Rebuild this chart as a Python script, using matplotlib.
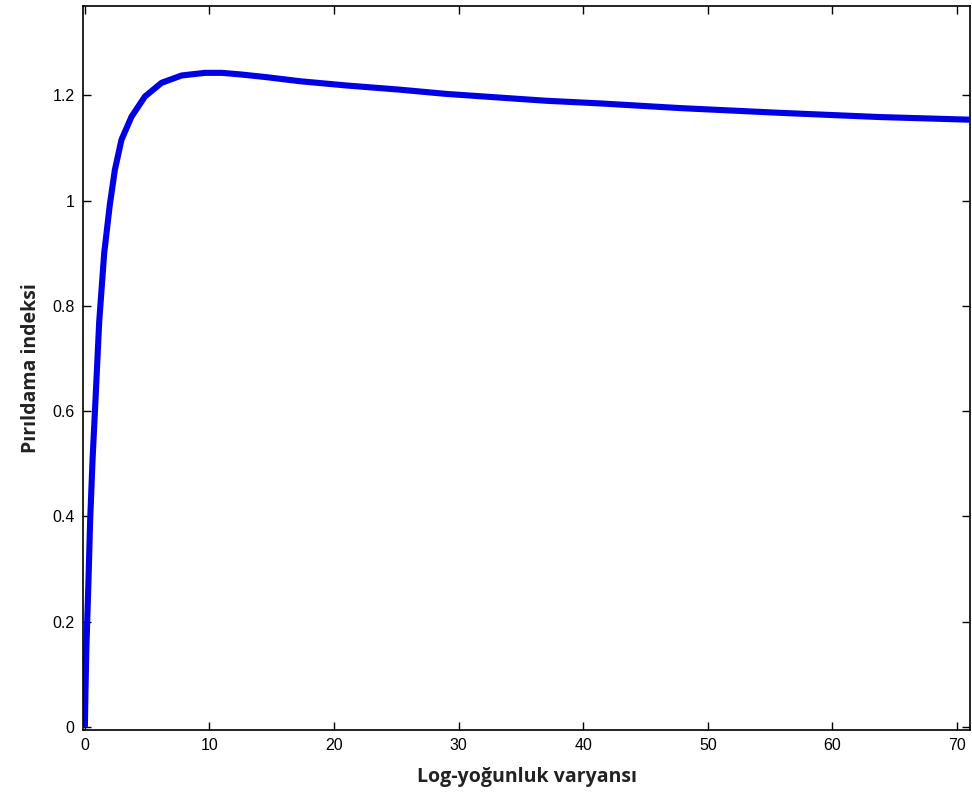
import matplotlib
matplotlib.use("Agg")
import matplotlib.pyplot as plt
from matplotlib.ticker import FuncFormatter

# log-intensity variance vs scintillation index
rytov = [0.0, 0.05, 0.12, 0.28, 0.42, 0.62, 0.86, 1.15, 1.55, 2.0, 2.41,
         2.94, 3.75, 4.82, 6.15, 7.76, 9.63, 11.0, 12.5, 14.5, 17.3, 21.0,
         25.3, 29.0, 33.3, 37.0, 41.3, 47.8, 55.8, 63.8, 71.0]
scint = [0.0, 0.07, 0.15, 0.27, 0.39, 0.51, 0.625, 0.77, 0.9, 0.992, 1.059,
         1.116, 1.160, 1.198, 1.224, 1.238, 1.243, 1.243, 1.240, 1.235,
         1.227, 1.219, 1.211, 1.203, 1.196, 1.190, 1.185, 1.176, 1.167,
         1.159, 1.154]

x_ticks = [0, 10, 20, 30, 40, 50, 60, 70]
y_ticks = [0, 0.2, 0.4, 0.6, 0.8, 1.0, 1.2]

fig = plt.figure(figsize=(9.72, 8.05), dpi=100)
ax = fig.add_axes([0.0854, 0.0932, 0.9126, 0.8993])

ax.plot(rytov, scint, color="#0000e6", lw=4.4, solid_capstyle="butt",
        solid_joinstyle="round")

ax.set_xlim(-0.15, 71.05)
ax.set_ylim(-0.006, 1.37)
ax.set_xticks(x_ticks)
ax.set_yticks(y_ticks)
ax.yaxis.set_major_formatter(FuncFormatter(lambda v, p: f"{v:g}"))
ax.tick_params(direction="in", top=True, right=True, length=6, width=1,
               labelsize=11.5, pad=6)
for lab in ax.get_xticklabels() + ax.get_yticklabels():
    lab.set_family("Liberation Sans")
for s in ax.spines.values():
    s.set_linewidth(1.2)

ax.set_xlabel("Log-yoğunluk varyansı", fontsize=14, fontweight="bold",
              family="Open Sans", color="#222222", labelpad=10)
ax.set_ylabel("Pırıldama indeksi", fontsize=14, fontweight="bold",
              family="Open Sans", color="#222222", labelpad=8)

fig.savefig("out.png", dpi=100)
